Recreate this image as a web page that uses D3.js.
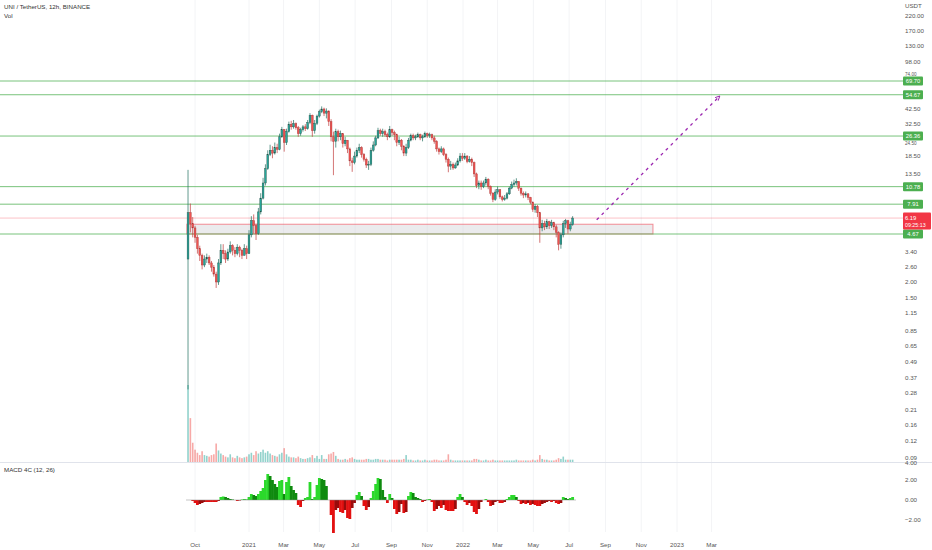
<!DOCTYPE html>
<html><head><meta charset="utf-8">
<script src="https://cdn.jsdelivr.net/npm/d3@7"></script>
<style>body{margin:0;background:#fff}svg{display:block;font-family:"Liberation Sans",Arial,sans-serif}</style>
</head><body><svg id="c" width="932" height="550"></svg>
<script>
// ---- data (4-day candles, UNI/USDT) ----
const startDate = "2020-09-17";
const periodDays = 4;
const firstOpen = 3.0;
const closes = [6.8,5.6,5.2,4.4,3.6,3.2,2.7,3.0,3.1,2.8,2.6,2.3,2.0,2.8,3.5,3.3,3.0,3.4,3.8,3.5,
3.3,3.7,3.5,3.2,3.6,3.3,4.6,5.9,5.4,4.7,6.9,8.8,11.5,14.8,19.0,20.5,19.5,21.5,20.8,26.0,
29.5,23.5,28.5,32.5,31.0,32.8,30.5,27.5,29.5,31.0,30.0,33.5,38.0,29.0,33.0,37.5,40.5,42.5,39.5,41.0,
34.0,26.0,24.0,28.5,26.0,27.5,23.0,24.5,21.0,17.0,16.5,18.5,20.5,21.5,19.0,17.5,15.8,16.0,20.5,22.5,
25.5,29.0,27.5,28.5,27.0,26.0,29.5,28.0,27.0,23.5,24.5,22.0,19.5,21.5,24.5,26.5,25.5,26.0,27.0,25.5,
26.0,27.5,26.5,27.0,25.5,24.0,21.0,20.0,21.0,19.0,17.5,15.5,16.0,15.0,15.8,17.0,18.5,17.8,18.5,16.8,
17.5,16.5,13.5,11.0,11.5,10.8,11.5,12.3,10.8,9.6,8.6,9.8,10.2,9.0,8.6,8.8,9.5,10.5,11.2,11.5,
11.8,10.5,9.6,9.3,9.5,8.9,8.2,7.2,7.6,6.8,5.2,5.6,5.3,5.8,5.4,5.7,5.3,4.8,3.9,4.6,
5.6,5.9,5.1,5.5,6.19];
const highs = [14.5,8.0,6.3,5.4,4.6,3.8,3.3,3.2,3.3,3.2,2.9,2.7,2.4,3.0,3.9,3.9,3.5,3.6,4.1,3.9,
3.7,3.9,3.8,3.6,3.9,3.8,5.0,6.4,6.6,5.6,7.4,9.6,12.6,16,20.5,22.6,22,23.5,23,27.5,
31,29.8,30,34,34.5,35,33.5,31.5,30.5,32,32.5,35,39.5,38.5,35,38.5,42,44.5,43.5,43,
41.5,35.5,28.5,30,29.5,29,27.5,26,24.5,21.5,18,20,21.5,23,22,19.5,18,17,21.5,24,
26.5,30.5,30,30,29.5,28,31.5,30,29,27.5,26,25,22.5,23,25.5,27.5,27.5,27,28,27.5,
27,28.5,28,28,27.5,26.5,24.5,21.5,22,21.5,19.5,18,17,16.5,16.5,17.8,19.5,19.5,19.5,18.8,
18.5,18,16.8,13.8,12,12,12,12.8,12.5,11,9.8,10.3,10.8,10.3,9.2,9.3,9.8,10.8,11.8,12.2,
12.5,11.9,10.6,9.9,9.9,9.6,9.0,8.3,7.9,7.8,6.9,6.0,5.9,6.1,5.9,6.0,5.8,5.5,4.9,4.8,
5.9,6.1,6.0,5.8,6.4];
const lows = [0.3,4.8,4.4,4.0,3.3,2.9,2.5,2.6,2.8,2.7,2.4,2.2,1.8,1.9,2.7,3.0,2.8,2.9,3.3,3.2,
3.1,3.2,3.1,3.0,3.2,3.0,3.3,4.4,4.7,4.2,4.6,6.6,8.6,11,14.5,18.5,17.8,19,19.5,20.5,
25.5,20,22.5,28,29.5,30,29.5,26,26.5,28.5,28.8,29.5,32.5,26,27.5,32,36.5,39.5,37.5,36,
31.5,24,13.2,21.5,24,24.5,21.5,22,19.5,15.5,14,16,18,19.5,18,16.8,15,14.5,15.5,20,
22,25,26.5,26,26,24.5,25.5,26.5,24.5,22,22.5,20.5,18.5,18.5,21,24,24.5,24.5,25.5,24.5,
24,25.5,25.5,25.5,24.5,23,20,19,19.5,18.5,16.5,13.9,14.5,14.5,14.8,15.5,16.5,17,17.3,16.3,
16.5,15.5,12.8,10.5,10.3,10.2,10.5,11,10.3,9.2,8.2,8.4,9.4,8.7,8.3,8.4,8.6,9.3,10.3,10.8,
11,10,9.2,8.8,8.9,8.5,7.9,6.9,6.8,6.3,4.0,4.9,5.0,5.1,5.1,5.2,5.0,4.4,3.5,3.6,
4.4,5.2,4.7,4.9,5.4];
const volumes = [100,57,25,16,12,9,14,9,8,7,9,10,24,15,11,9,7,6,10,6,
5,8,6,5,6,7,10,12,9,14,11,13,16,12,14,11,9,8,7,10,
12,18,10,7,6,6,5,7,5,4,4,5,6,9,5,8,4,9,4,4,
10,11,13,8,4,3,3,4,3,5,6,4,3,3,3,3,4,4,3,3,
4,4,3,3,3,2,3,3,3,3,3,3,4,9,3,3,2,2,3,2,
2,3,2,2,2,3,3,2,2,2,3,10,3,2,2,2,2,2,2,2,
2,2,4,4,3,2,2,3,2,2,3,2,2,2,2,2,2,2,2,2,
3,2,2,2,2,2,2,3,2,3,9,4,3,3,2,2,2,3,5,4,
7,3,3,3,3];
const macd = [0,0,-0.1,-0.3,-0.5,-0.4,-0.3,-0.2,-0.2,-0.2,-0.2,-0.2,-0.2,-0.1,0.3,0.35,0.3,0.2,0.1,0.05,
0,-0.1,-0.05,0.05,0.1,0.05,0.3,0.6,0.5,0.4,0.6,0.9,1.2,2.0,2.6,2.4,2.0,1.6,1.3,1.9,
2.0,0.6,1.8,2.3,1.4,1.0,0.7,-0.5,-0.7,-0.1,0.2,0.3,1.8,0.1,0.3,1.5,2.2,2.1,2.0,1.4,
0.0,-1.5,-3.6,-1.0,-0.8,-1.2,-1.3,-1.0,-1.8,-1.9,-0.8,-0.3,0.5,0.8,0.4,-0.6,-1.0,-0.7,0.2,0.9,
1.6,2.2,2.1,1.0,0.3,-0.3,0.6,0.2,-0.9,-1.4,-1.2,-0.4,-1.3,-1.2,0.4,0.8,0.7,0.3,0.2,0.1,
-0.2,-0.1,0.05,0.1,-0.2,-1.1,-0.9,-0.6,-0.8,-0.5,-1.0,-1.1,-1.1,-1.1,-0.9,0.3,0.6,0.3,-0.2,-0.5,
-0.3,-0.6,-1.2,-1.4,-0.9,-0.2,0.0,0.1,-0.2,-0.6,-0.5,-0.2,-0.1,-0.3,-0.3,-0.2,0.1,0.3,0.5,0.5,
0.3,-0.1,-0.4,-0.3,-0.4,-0.3,-0.5,-0.4,-0.5,-0.6,-0.6,-0.4,-0.3,-0.2,-0.1,-0.2,-0.1,-0.3,-0.4,-0.3,
0.3,0.2,0.1,0.2,0.3];
const levels = [69.70, 54.67, 26.36, 10.78, 7.91, 4.67];
const lastPrice = 6.19;
const lastTime = "09:25:13";
const priceTicks = [220,170,130,98,42.5,32.5,18.5,13.5,3.4,2.6,2.0,1.5,1.15,0.85,0.65,0.49,0.37,0.28,0.21,0.16,0.12,0.09];
const hiddenTicks = [74, 24.5];
const macdTicks = [4,2,0,-2];
const dateTicks = [["2020-10-01","Oct"],["2021-01-01","2021"],["2021-03-01","Mar"],["2021-05-01","May"],["2021-07-01","Jul"],["2021-09-01","Sep"],["2021-11-01","Nov"],["2022-01-01","2022"],["2022-03-01","Mar"],["2022-05-01","May"],["2022-07-01","Jul"],["2022-09-01","Sep"],["2022-11-01","Nov"],["2023-01-01","2023"],["2023-03-01","Mar"]];
const zoneDates = ["2020-09-17","2022-11-21"];
const zonePrices = [5.55, 4.67];
const projDates = ["2022-08-17","2023-03-15"];
const projPrices = [6.0, 53.5];

// ---- build ----
const svg = d3.select("#c");
const W = 932, plotR = 903, mainBottom = 462;
const day = 864e5;
const t0 = new Date(startDate + "T00:00:00Z").getTime();
const candles = closes.map((c,i)=>({
  date: new Date(t0 + (i*periodDays + periodDays/2)*day),
  o: i===0 ? firstOpen : closes[i-1], h: highs[i], l: lows[i], c: c, v: volumes[i], m: macd[i]
}));

const x = d3.scaleUtc().domain([new Date("2021-01-01"), new Date("2022-01-01")]).range([249, 463]);
const y = d3.scaleLog().domain([69.7, 4.67]).range([81, 234]);
const yv = d3.scaleLinear().domain([0, 100]).range([mainBottom, 385]);
const ym = d3.scaleLinear().domain([-2, 2]).range([520, 480]);

svg.append("defs").html('<clipPath id="cm"><rect x="0" y="0" width="'+plotR+'" height="'+mainBottom+'"/></clipPath><clipPath id="cd"><rect x="0" y="463" width="895" height="70"/></clipPath>');

// grid
const grid = svg.append("g");
grid.selectAll("line").data(dateTicks).join("line")
  .attr("x1", d=>x(new Date(d[0]))).attr("x2", d=>x(new Date(d[0])))
  .attr("y1", 0).attr("y2", 532).attr("stroke", "#f3f4f6").attr("stroke-width", 1);

const main = svg.append("g").attr("clip-path", "url(#cm)");

// volume
main.append("g").selectAll("rect").data(candles).join("rect")
  .attr("x", d=>x(d.date)-0.8).attr("width", 1.6)
  .attr("y", d=>yv(d.v)).attr("height", d=>mainBottom - yv(d.v))
  .attr("fill", d=>d.c>=d.o ? "rgba(38,166,154,0.5)" : "rgba(239,83,80,0.5)");

// zone rect
main.append("rect")
  .attr("x", x(new Date(zoneDates[0]))).attr("width", x(new Date(zoneDates[1])) - x(new Date(zoneDates[0])))
  .attr("y", y(zonePrices[0])).attr("height", y(zonePrices[1]) - y(zonePrices[0]))
  .attr("fill", "rgba(210,210,214,0.45)").attr("stroke", "rgba(242,54,69,0.55)").attr("stroke-width", 1);

// last price line
main.append("line").attr("x1", 0).attr("x2", plotR).attr("y1", y(lastPrice)).attr("y2", y(lastPrice))
  .attr("stroke", "rgba(242,54,69,0.3)").attr("stroke-width", 1);

// level lines
main.append("g").selectAll("line").data(levels).join("line")
  .attr("x1", 0).attr("x2", plotR).attr("y1", d=>y(d)).attr("y2", d=>y(d))
  .attr("stroke", "rgba(76,175,80,0.75)").attr("stroke-width", 1);

// candles
const cg = main.append("g");
cg.selectAll("line").data(candles).join("line")
  .attr("x1", d=>x(d.date)).attr("x2", d=>x(d.date))
  .attr("y1", d=>y(d.h)).attr("y2", d=>y(d.l))
  .attr("stroke", d=>d.c>=d.o ? "#1f6f5f" : "#c0393a").attr("stroke-width", 0.7);
cg.selectAll("rect").data(candles).join("rect")
  .attr("x", d=>x(d.date)-0.9).attr("width", 1.8)
  .attr("y", d=>y(Math.max(d.o,d.c))).attr("height", d=>Math.max(0.8, Math.abs(y(d.o)-y(d.c))))
  .attr("fill", d=>d.c>=d.o ? "#26a69a" : "#ef5350")
  .attr("stroke", d=>d.c>=d.o ? "#2a4f47" : "#a83a3a").attr("stroke-width", 0.4);

// projection arrow
const p0 = [x(new Date(projDates[0])), y(projPrices[0])], p1 = [x(new Date(projDates[1])), y(projPrices[1])];
main.append("line").attr("x1", p0[0]).attr("y1", p0[1]).attr("x2", p1[0]).attr("y2", p1[1])
  .attr("stroke", "#9c27b0").attr("stroke-width", 1.3).attr("stroke-dasharray", "3,4");
const ang = Math.atan2(p1[1]-p0[1], p1[0]-p0[0]);
const ah = 5;
main.append("path")
  .attr("d", `M${p1[0]-ah*Math.cos(ang-0.45)},${p1[1]-ah*Math.sin(ang-0.45)}L${p1[0]},${p1[1]}L${p1[0]-ah*Math.cos(ang+0.45)},${p1[1]-ah*Math.sin(ang+0.45)}`)
  .attr("fill", "none").attr("stroke", "#9c27b0").attr("stroke-width", 1);

// pane separator
svg.append("line").attr("x1", 0).attr("x2", W).attr("y1", 462.5).attr("y2", 462.5).attr("stroke", "#e0e3eb");

// MACD
const mg = svg.append("g").attr("clip-path", "url(#cd)");
mg.selectAll("rect").data(candles).join("rect")
  .attr("x", d=>x(d.date)-1.4).attr("width", 2.8)
  .attr("y", d=>d.m>=0 ? ym(d.m) : ym(0)).attr("height", d=>Math.abs(ym(d.m)-ym(0)))
  .attr("fill", (d,i)=>{
    const prev = i>0 ? candles[i-1].m : 0;
    if (d.m >= 0) return d.m >= prev ? "#2bd92b" : "#0e8a0e";
    return d.m <= prev ? "#e31010" : "#9b0b0b";
  });
mg.append("line").attr("x1", 186).attr("x2", 576).attr("y1", ym(0)).attr("y2", ym(0)).attr("stroke", "#888").attr("stroke-width", 0.5);

// right price axis
const ax = svg.append("g").attr("font-size", 6.2).attr("fill", "#555");
ax.append("text").attr("x", 905).attr("y", 6).attr("dy", "0.35em").text("USDT");
ax.selectAll("text.pt").data(priceTicks).join("text").attr("class", "pt")
  .attr("x", 905).attr("y", d=>y(d)).attr("dy", "0.35em").text(d=>d.toFixed(2));
// partially covered tick labels, nudged clear of the level boxes
ax.selectAll("text.ht").data(hiddenTicks).join("text").attr("class", "ht")
  .attr("x", 905).attr("y", d=>d>50 ? y(d)-3.6 : y(d)+3.2).attr("dy", "0.35em").attr("font-size", 4.6).text(d=>d.toFixed(2));
// level labels
const lg = svg.append("g");
levels.forEach(v=>{
  lg.append("rect").attr("x", 903).attr("y", y(v)-4.5).attr("width", 20).attr("height", 9).attr("fill", "#4caf50").attr("rx", 1);
  lg.append("text").attr("x", 913).attr("y", y(v)).attr("dy", "0.35em").attr("text-anchor", "middle")
    .attr("font-size", 5.8).attr("fill", "#fff").text(v.toFixed(2));
});
lg.append("rect").attr("x", 903).attr("y", y(lastPrice)-5.5).attr("width", 28).attr("height", 17).attr("fill", "#f23645").attr("rx", 1);
lg.append("text").attr("x", 905).attr("y", y(lastPrice)-0.5).attr("dy", "0.35em").attr("font-size", 5.8).attr("fill", "#fff").text(lastPrice.toFixed(2));
lg.append("text").attr("x", 905).attr("y", y(lastPrice)+7).attr("dy", "0.35em").attr("font-size", 5.3).attr("fill", "#fff").text(lastTime);

// macd axis
ax.selectAll("text.mt").data(macdTicks).join("text").attr("class", "mt")
  .attr("x", 905).attr("y", d=>ym(d)+(d===4?3:0)).attr("dy", "0.35em").text(d=>d.toFixed(2).replace("-", "\u2212"));

// date axis
svg.append("g").attr("font-size", 6.2).attr("fill", "#555")
  .selectAll("text").data(dateTicks).join("text")
  .attr("x", d=>x(new Date(d[0]))).attr("y", 545).attr("dy", "0.35em").attr("text-anchor", "middle").text(d=>d[1]);

// titles
const tt = svg.append("g").attr("font-size", 6.2).attr("fill", "#333");
tt.append("text").attr("x", 4).attr("y", 7).attr("dy", "0.35em").text("UNI / TetherUS, 12h, BINANCE");
tt.append("text").attr("x", 4).attr("y", 16).attr("dy", "0.35em").text("Vol");
tt.append("text").attr("x", 4).attr("y", 470).attr("dy", "0.35em").text("MACD 4C (12, 26)");
</script></body></html>
